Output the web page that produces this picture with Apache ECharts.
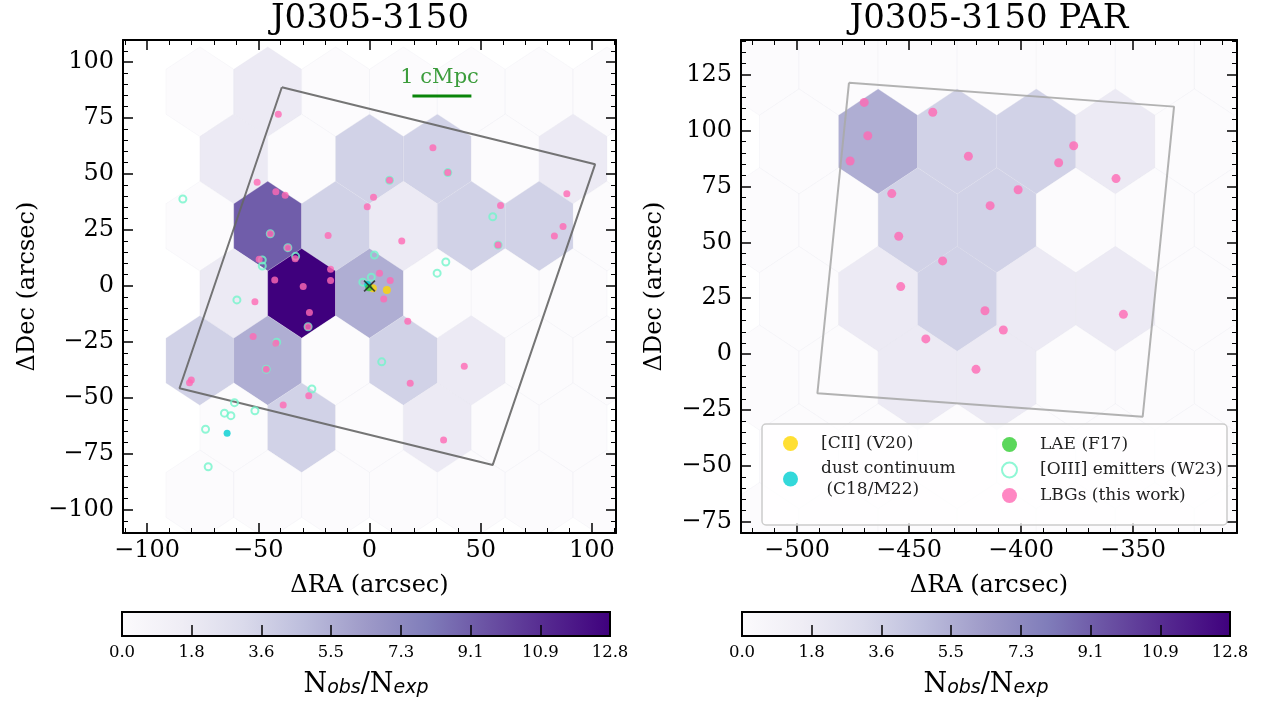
<!DOCTYPE html>
<html><head><meta charset="utf-8">
<script src="https://cdn.jsdelivr.net/npm/echarts@6/dist/echarts.min.js"></script>
<style>html,body{margin:0;padding:0;background:#fff}#c{width:1271px;height:702px}</style>
</head><body><div id="c"></div>
<script>
// ---------------- DATA ----------------
// hexbin cells (N_obs/N_exp), left field
const leftHexXOdd  = [-76.25,-45.75,-15.25,15.25,45.75,76.25,106.75];
const leftHexXEven = [-61,-30.5,0,30.5,61,91.5];
const leftHexRowY  = [86.7,56.7,26.7,-3.3,-33.3,-63.3,-93.3];
const leftHexRowOdd= [true,false,true,false,true,false,true];
const leftHexValues = [
  [0,1.82,0,0,0,0,0],
  [1.82,0,3.64,3.64,0,1.82],
  [0,9.11,3.64,1.82,3.64,3.64,0],
  [1.82,12.75,5.46,0,0,0],
  [3.64,5.46,0,3.64,1.82,0,0],
  [0,3.64,0,1.82,0,0],
  [0,0,0,0,0,0,0]
];
// hexbin cells, parallel field
const rightHexXA = [-499.1,-463.8,-428.5,-393.2,-357.9,-322.6];
const rightHexXB = [-516.75,-481.45,-446.15,-410.85,-375.55,-340.25,-304.95];
const rightHexRowY = [130.3,95.1,59.9,24.7,-10.5,-45.7,-80.9];
const rightHexRowB = [true,false,true,false,true,false,true];
const rightHexValues = [
  [0,0,0,0,0,0,0],
  [0,5.46,3.64,3.64,1.82,0],
  [0,0,3.64,3.64,0,0,0],
  [0,1.82,3.64,1.82,1.82,0],
  [0,0,1.82,1.82,0,0,0],
  [0,0,0,0,0,0],
  [0,0,0,0,0,0,0]
];
// galaxies, left field (dRA, dDec arcsec)
const lbgLeft = [[-41.0,76.7],[-50.5,46.3],[-42.1,42.1],[-37.9,40.5],[-18.6,22.5],[-44.6,23.3],[-36.7,17.1],[-33.4,12.1],[-49.6,11.9],[-17.5,7.5],[-42.6,2.7],[-17.5,2.4],[-29.8,-0.3],[-1.0,35.4],[28.5,61.7],[35.2,50.6],[9.0,47.2],[1.8,39.6],[14.5,20.1],[58.9,35.9],[57.8,18.3],[88.7,41.2],[87.0,26.5],[83.1,22.3],[4.5,5.7],[9.3,2.4],[-51.5,-7.1],[-27.0,-11.9],[-27.6,-18.2],[-52.3,-22.6],[-42.1,-25.6],[-46.4,-37.2],[-80.1,-42.0],[-80.9,-43.2],[-38.8,-53.1],[-27.3,-49.0],[6.4,-5.8],[17.2,-15.8],[18.3,-43.4],[42.6,-35.9],[33.3,-68.75]];
const oiiiLeft = [[-83.9,38.8],[-44.6,23.3],[-36.7,17.1],[-33.2,13.2],[-48.2,11.6],[-48.2,8.9],[9.0,47.2],[35.2,50.6],[55.4,30.9],[57.8,18.3],[34.3,10.7],[30.4,5.7],[2.2,13.8],[0.8,3.9],[-3.0,1.7],[-59.6,-6.25],[-27.6,-18.2],[-41.7,-25.1],[-46.4,-37.2],[-25.9,-46.0],[-60.7,-52.1],[-51.5,-55.7],[-65.2,-56.8],[-62.3,-57.9],[-73.7,-64.0],[-72.5,-80.7],[5.5,-33.9]];
const dustLeft = [[-64.0,-65.8],[-0.8,0.6]];
const laeLeft  = [[-0.3,-0.8]];
const ciiLeft  = [[7.8,-1.8],[1.5,-1.0]];
const qsoLeft  = [[0,0]];
// galaxies, parallel field
const lbgRight = [[-470.0,112.6],[-468.4,97.7],[-476.3,86.4],[-439.4,108.2],[-423.5,88.5],[-457.7,71.8],[-454.6,52.7],[-435.0,41.7],[-453.7,30.2],[-413.8,66.4],[-376.5,93.2],[-383.2,85.6],[-357.6,78.5],[-401.3,73.5],[-416.1,19.4],[-442.5,6.8],[-420.1,-6.8],[-354.3,17.8],[-407.9,10.8]];
// instrument footprints (corners)
const footLeft  = [[-39.4,88.7],[101.4,54.3],[55.4,-79.9],[-85.4,-45.7]];
const footRight = [[-476.8,121.4],[-331.7,110.7],[-345.7,-28.0],[-490.9,-17.5]];
// scale bar 1 cMpc
const scaleBar = [[19.3,84.8],[45.8,84.8]];
const scaleLabelPos = [[31.5,92.9]];
// ticks
const leftXMajor = [-100,-50,0,50,100];
const leftXMinor = [-110,-90,-80,-70,-60,-40,-30,-20,-10,10,20,30,40,60,70,80,90,110];
const leftYMajor = [-100,-75,-50,-25,0,25,50,75,100];
const leftYMinor = [-110,-105,-95,-90,-85,-80,-70,-65,-60,-55,-45,-40,-35,-30,-20,-15,-10,-5,5,10,15,20,30,35,40,45,55,60,65,70,80,85,90,95,105];
const rightXMajor = [-500,-450,-400,-350];
const rightXMinor = [-520,-510,-490,-480,-470,-460,-440,-430,-420,-410,-390,-380,-370,-360,-340,-330,-320,-310];
const rightYMajor = [-75,-50,-25,0,25,50,75,100,125];
const rightYMinor = [-80,-70,-65,-60,-55,-45,-40,-35,-30,-20,-15,-10,-5,5,10,15,20,30,35,40,45,55,60,65,70,80,85,90,95,105,110,115,120,130,135,140];
const cbTicks = [0,1.82,3.64,5.46,7.29,9.11,10.93,12.75];
const cbMax = 12.75;

// ---------------- STYLE / BUILD ----------------
const purples = ['#fcfbfd','#efedf5','#dadaeb','#bcbddc','#9e9ac8','#807dba','#6a51a3','#54278f','#3f007d'];
const SERIF = 'DejaVu Serif';
const fmt = v => (v < 0 ? '\u2212' + Math.abs(v) : String(v));

function hexData(rowsY, rowFlag, xa, xb, vals) {
  const out = [];
  rowsY.forEach((y, r) => {
    const xs = rowFlag[r] ? xa : xb;
    xs.forEach((x, i) => out.push([x, y, vals[r][i]]));
  });
  return out;
}
const leftHex = hexData(leftHexRowY, leftHexRowOdd, leftHexXOdd, leftHexXEven, leftHexValues);
const rightHex = hexData(rightHexRowY, rightHexRowB, rightHexXB, rightHexXA, rightHexValues);

function hexRender(sx, sy) {
  return function (params, api) {
    const cx = api.value(0), cy = api.value(1);
    const pts = [[cx + sx/2, cy - sy/6], [cx + sx/2, cy + sy/6], [cx, cy + sy/3],
                 [cx - sx/2, cy + sy/6], [cx - sx/2, cy - sy/6], [cx, cy - sy/3]].map(p => api.coord(p));
    const c = api.visual('color');
    return {type: 'polygon', shape: {points: pts}, style: {fill: c, stroke: 'rgba(228,228,238,0.35)', lineWidth: 0.6}};
  };
}

function axisPair(dim, g, min, max, major, minor, pos, mirrorPos, withLabels, name, nameGap) {
  const base = {type: 'value', gridIndex: g, min: min, max: max, splitLine: {show: false}, z: 10};
  const main = Object.assign({}, base, {
    position: pos,
    axisLine: {show: true, onZero: false, lineStyle: {color: '#000', width: 2}},
    axisTick: {show: true, inside: true, length: 10, customValues: major, lineStyle: {color: '#000', width: 1.5}},
    axisLabel: {show: withLabels, customValues: major, formatter: fmt, fontFamily: SERIF, fontSize: 24, color: '#000', margin: dim === 'x' ? 6 : 9},
    name: name, nameLocation: 'middle', nameGap: nameGap,
    nameRotate: dim === 'y' ? 90 : 0,
    nameTextStyle: {fontFamily: SERIF, fontSize: 24, color: '#000'}
  });
  const mk = (p, vals, len, line) => Object.assign({}, base, {
    position: p,
    axisLine: {show: line, onZero: false, lineStyle: {color: '#000', width: 2}},
    axisTick: {show: true, inside: true, length: len, customValues: vals, lineStyle: {color: '#000', width: len > 6 ? 1.5 : 1}},
    axisLabel: {show: false}
  });
  return [main, mk(pos, minor, 5, false), mk(mirrorPos, major, 10, true), mk(mirrorPos, minor, 5, false)];
}

const xAxes = [].concat(
  axisPair('x', 0, -110.8, 110.8, leftXMajor, leftXMinor, 'bottom', 'top', true, '\u0394RA (arcsec)', 41),
  axisPair('x', 1, -525, -303.6, rightXMajor, rightXMinor, 'bottom', 'top', true, '\u0394RA (arcsec)', 41)
);
const yAxes = [].concat(
  axisPair('y', 0, -110.3, 109.8, leftYMajor, leftYMinor, 'left', 'right', true, '\u0394Dec (arcsec)', 83),
  axisPair('y', 1, -80, 140.5, rightYMajor, rightYMinor, 'left', 'right', true, '\u0394Dec (arcsec)', 74)
);
const cbName = '{n|N}{s|obs}{n|/N}{s|exp}';
const cbRich = {
  n: {fontFamily: SERIF, fontSize: 27, lineHeight: 34, verticalAlign: 'bottom', color: '#000'},
  s: {fontFamily: 'DejaVu Sans', fontStyle: 'italic', fontSize: 19, lineHeight: 16, verticalAlign: 'bottom', color: '#000'}
};
[2, 3].forEach(g => {
  xAxes.push({type: 'value', gridIndex: g, min: 0, max: cbMax, position: 'bottom', z: 10,
    axisLine: {show: false, onZero: false},
    axisTick: {show: true, inside: true, length: 11, customValues: cbTicks, lineStyle: {color: '#000', width: 1.5}},
    axisLabel: {show: true, customValues: cbTicks, formatter: v => v.toFixed(1), fontFamily: SERIF, fontSize: 16.5, color: '#000', margin: 8},
    splitLine: {show: false},
    name: cbName, nameLocation: 'middle', nameGap: 28, nameTextStyle: {rich: cbRich}
  });
  yAxes.push({type: 'value', gridIndex: g, min: 0, max: 1, show: false});
});

function cbRender(params, api) {
  const p0 = api.coord([api.value(0), 0]);
  const p1 = api.coord([api.value(1), 1]);
  const stops = purples.map((c, i) => ({offset: i / (purples.length - 1), color: c}));
  return {type: 'rect', shape: {x: p0[0], y: p1[1], width: p1[0] - p0[0], height: p0[1] - p1[1]},
    style: {fill: new echarts.graphic.LinearGradient(0, 0, 1, 0, stops), stroke: '#000', lineWidth: 2}};
}

const closed = a => a.concat([a[0]]);

const series = [
  {type: 'custom', name: 'hexL', xAxisIndex: 0, yAxisIndex: 0, renderItem: hexRender(30.5, 60), data: leftHex, clip: true, z: 1, silent: true},
  {type: 'custom', name: 'hexR', xAxisIndex: 4, yAxisIndex: 4, renderItem: hexRender(35.3, 70.5), data: rightHex, clip: true, z: 1, silent: true},
  {type: 'line', xAxisIndex: 0, yAxisIndex: 0, data: closed(footLeft), symbol: 'none', z: 2, silent: true,
    lineStyle: {color: '#666666', width: 2, opacity: 0.9}},
  {type: 'line', xAxisIndex: 4, yAxisIndex: 4, data: closed(footRight), symbol: 'none', z: 2, silent: true,
    lineStyle: {color: '#aaaaaa', width: 2, opacity: 0.9}},
  {type: 'line', xAxisIndex: 0, yAxisIndex: 0, data: scaleBar, symbol: 'none', z: 2, silent: true,
    lineStyle: {color: '#0a850a', width: 3}},
  {type: 'scatter', xAxisIndex: 0, yAxisIndex: 0, data: scaleLabelPos, symbolSize: 1, z: 2, silent: true,
    itemStyle: {color: 'rgba(0,0,0,0)'},
    label: {show: true, position: 'inside', formatter: '1 cMpc', color: '#0a850a', fontFamily: SERIF, fontSize: 21}},
  {type: 'scatter', name: '[OIII] emitters (W23)', xAxisIndex: 0, yAxisIndex: 0, data: oiiiLeft, symbol: 'circle', symbolSize: 7, z: 3,
    itemStyle: {color: 'rgba(0,0,0,0)', borderColor: '#73f5cb', borderWidth: 2}},
  {type: 'scatter', name: 'LBGs (this work)', xAxisIndex: 0, yAxisIndex: 0, data: lbgLeft, symbol: 'circle', symbolSize: 7, z: 4,
    itemStyle: {color: '#ff69b4'}},
  {type: 'scatter', name: 'dust continuum (C18/M22)', xAxisIndex: 0, yAxisIndex: 0, data: dustLeft, symbol: 'circle', symbolSize: 7, z: 4,
    itemStyle: {color: '#00ced1'}},
  {type: 'scatter', name: '[CII] (V20)', xAxisIndex: 0, yAxisIndex: 0, data: ciiLeft, symbol: 'circle', symbolSize: 8, z: 4,
    itemStyle: {color: '#ffd700'}},
  {type: 'scatter', name: 'LAE (F17)', xAxisIndex: 0, yAxisIndex: 0, data: laeLeft, symbol: 'circle', symbolSize: 7, z: 5,
    itemStyle: {color: '#32cd32'}},
  {type: 'scatter', name: 'QSO', xAxisIndex: 0, yAxisIndex: 0, data: qsoLeft, z: 6,
    symbol: 'path://M0,1L1,0L5,4L9,0L10,1L6,5L10,9L9,10L5,6L1,10L0,9L4,5Z', symbolSize: 12,
    itemStyle: {color: '#222'}},
  {type: 'scatter', name: 'LBGs (this work)', xAxisIndex: 4, yAxisIndex: 4, data: lbgRight, symbol: 'circle', symbolSize: 9, z: 4,
    itemStyle: {color: '#ff69b4'}},
  {type: 'custom', xAxisIndex: 8, yAxisIndex: 8, data: [[0, cbMax]], renderItem: cbRender, silent: true, z: 1},
  {type: 'custom', xAxisIndex: 9, yAxisIndex: 9, data: [[0, cbMax]], renderItem: cbRender, silent: true, z: 1}
];

const legendText = {fontFamily: SERIF, fontSize: 17, color: '#222', padding: [0, 0, 0, 18], lineHeight: 21};
const legendFmt = n => (n === 'dust continuum (C18/M22)' ? 'dust continuum\n (C18/M22)' : n);

const option = {
  animation: false,
  backgroundColor: '#ffffff',
  grid: [
    {left: 123, top: 40, width: 493, height: 493},
    {left: 741, top: 40, width: 496, height: 493},
    {left: 122, top: 612, width: 488, height: 24},
    {left: 742, top: 612, width: 488, height: 24}
  ],
  xAxis: xAxes,
  yAxis: yAxes,
  visualMap: {show: false, type: 'continuous', min: 0, max: cbMax, dimension: 2, seriesIndex: [0, 1],
    inRange: {color: purples}},
  legend: [
    {orient: 'vertical', left: 778, top: 428, itemWidth: 15, itemHeight: 15, itemGap: 4, z: 60, selectedMode: false,
     textStyle: legendText, formatter: legendFmt,
     data: [{name: '[CII] (V20)', icon: 'circle'}, {name: 'dust continuum (C18/M22)', icon: 'circle'}]},
    {orient: 'vertical', left: 996, top: 429, itemWidth: 15, itemHeight: 15, itemGap: 4.5, z: 60, selectedMode: false,
     textStyle: legendText,
     data: [{name: 'LAE (F17)', icon: 'circle'},
            {name: '[OIII] emitters (W23)', icon: 'circle', itemStyle: {color: 'rgba(0,0,0,0)', borderColor: '#73f5cb', borderWidth: 2}},
            {name: 'LBGs (this work)', icon: 'circle'}]}
  ],
  graphic: [
    {type: 'text', x: 370, y: 19, style: {text: 'J0305-3150', font: '34px "DejaVu Serif"', fill: '#000', align: 'center', verticalAlign: 'middle'}},
    {type: 'text', x: 989, y: 19, style: {text: 'J0305-3150 PAR', font: '34px "DejaVu Serif"', fill: '#000', align: 'center', verticalAlign: 'middle'}},
    {type: 'rect', z: 50, shape: {x: 762, y: 424, width: 465, height: 101, r: 4},
     style: {fill: 'rgba(255,255,255,0.8)', stroke: '#cccccc', lineWidth: 1.5}}
  ],
  series: series
};

const chart = echarts.init(document.getElementById('c'), null, {renderer: 'canvas'});
chart.setOption(option);
</script>
</body></html>
